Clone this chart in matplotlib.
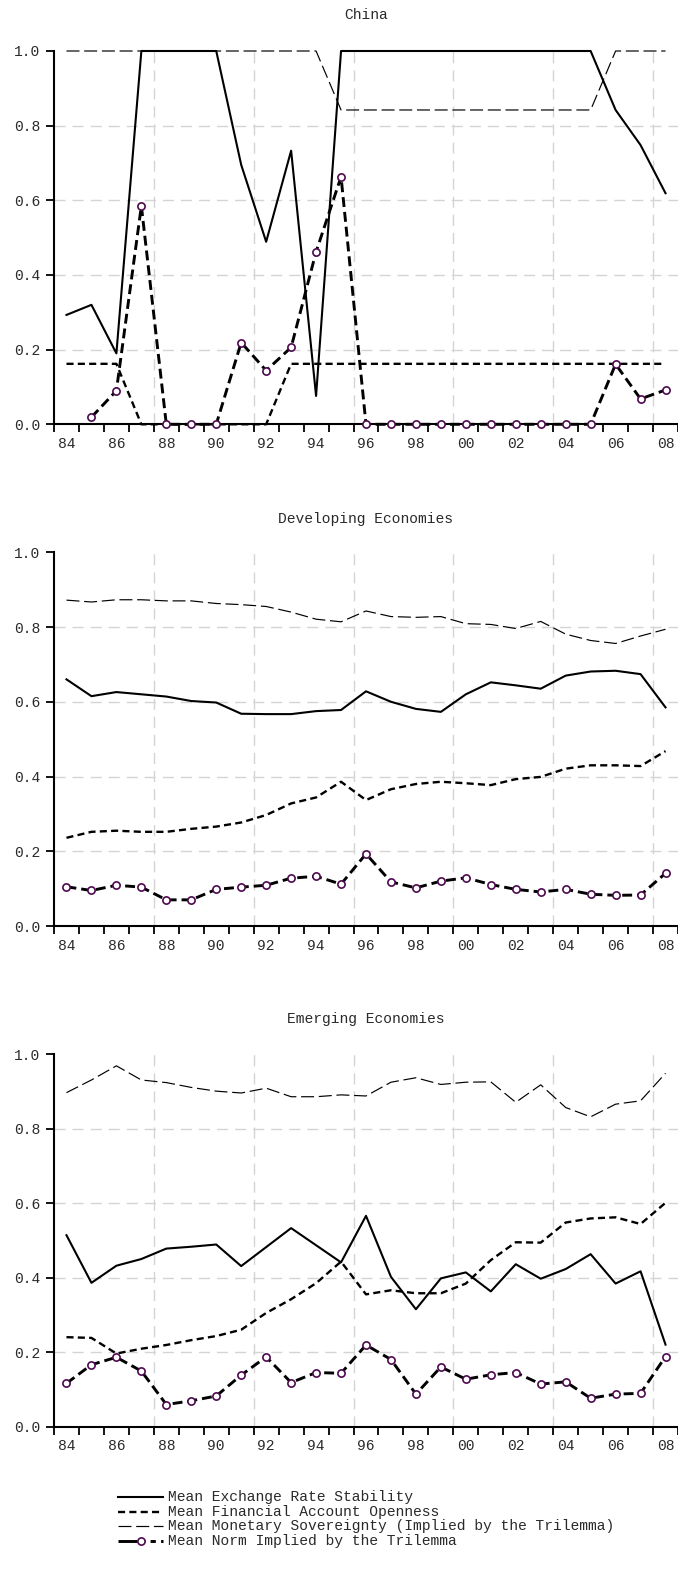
import numpy as np
import matplotlib.pyplot as plt
from matplotlib.lines import Line2D

plt.rcParams['font.family'] = ['Liberation Mono', 'DejaVu Sans Mono']

# ---------------------------------------------- data -----------------------------------------------
years = list(range(1984, 2009))
year_labels = ['%02d' % (y % 100) for y in years]

panel_titles = ['China', 'Developing Economies', 'Emerging Economies']

# China
cn_exch = [0.293, 0.320, 0.19, 1.0, 1.0, 1.0, 1.0, 0.695, 0.489, 0.733, 0.076, 1.0, 1.0,
           1.0, 1.0, 1.0, 1.0, 1.0, 1.0, 1.0, 1.0, 1.0, 0.842, 0.748, 0.619]
cn_fin = [0.162, 0.162, 0.162, 0.0, 0.0, 0.0, 0.0, 0.0, 0.0, 0.162, 0.162, 0.162, 0.162,
          0.162, 0.162, 0.162, 0.162, 0.162, 0.162, 0.162, 0.162, 0.162, 0.162, 0.162, 0.162]
cn_mon = [1.0, 1.0, 1.0, 1.0, 1.0, 1.0, 1.0, 1.0, 1.0, 1.0, 1.0, 0.842, 0.842,
          0.842, 0.842, 0.842, 0.842, 0.842, 0.842, 0.842, 0.842, 0.842, 1.0, 1.0, 1.0]
cn_norm = [np.nan, 0.019, 0.09, 0.585, 0.0, 0.0, 0.0, 0.219, 0.144, 0.206, 0.462, 0.663, 0.0,
           0.0, 0.0, 0.0, 0.0, 0.0, 0.0, 0.0, 0.0, 0.0, 0.161, 0.068, 0.092]

# Developing economies
dev_exch = [0.660, 0.615, 0.626, 0.620, 0.614, 0.602, 0.598, 0.568, 0.567, 0.567, 0.575, 0.578, 0.628,
            0.600, 0.581, 0.573, 0.620, 0.652, 0.644, 0.635, 0.670, 0.681, 0.683, 0.674, 0.585]
dev_fin = [0.236, 0.252, 0.255, 0.252, 0.252, 0.260, 0.266, 0.277, 0.297, 0.328, 0.344, 0.386, 0.337,
           0.366, 0.380, 0.386, 0.382, 0.377, 0.393, 0.399, 0.421, 0.430, 0.430, 0.428, 0.468]
dev_mon = [0.872, 0.867, 0.873, 0.873, 0.870, 0.870, 0.863, 0.860, 0.855, 0.840, 0.821, 0.814, 0.843,
           0.828, 0.826, 0.828, 0.809, 0.807, 0.796, 0.815, 0.781, 0.764, 0.756, 0.776, 0.794]
dev_norm = [0.105, 0.095, 0.109, 0.104, 0.070, 0.070, 0.098, 0.104, 0.109, 0.128, 0.133, 0.112, 0.193,
            0.118, 0.102, 0.120, 0.129, 0.111, 0.098, 0.091, 0.098, 0.085, 0.082, 0.083, 0.141]

# Emerging economies
em_exch = [0.514, 0.386, 0.432, 0.450, 0.478, 0.483, 0.489, 0.431, 0.482, 0.533, 0.487, 0.441, 0.566,
           0.402, 0.315, 0.398, 0.414, 0.363, 0.436, 0.397, 0.423, 0.463, 0.384, 0.417, 0.220]
em_fin = [0.240, 0.238, 0.196, 0.209, 0.219, 0.232, 0.243, 0.260, 0.305, 0.342, 0.385, 0.443, 0.355,
          0.366, 0.358, 0.358, 0.384, 0.447, 0.495, 0.494, 0.548, 0.559, 0.562, 0.544, 0.601]
em_mon = [0.897, 0.931, 0.969, 0.931, 0.924, 0.911, 0.901, 0.896, 0.909, 0.886, 0.886, 0.891, 0.888,
          0.925, 0.937, 0.919, 0.925, 0.926, 0.871, 0.918, 0.857, 0.832, 0.866, 0.875, 0.949]
em_norm = [0.116, 0.166, 0.186, 0.149, 0.059, 0.069, 0.082, 0.138, 0.187, 0.118, 0.145, 0.143, 0.219,
           0.180, 0.087, 0.160, 0.127, 0.139, 0.145, 0.114, 0.120, 0.076, 0.087, 0.089, 0.188]

series_names = ['Mean Exchange Rate Stability',
                'Mean Financial Account Openness',
                'Mean Monetary Sovereignty (Implied by the Trilemma)',
                'Mean Norm Implied by the Trilemma']

panels = [(cn_exch, cn_fin, cn_mon, cn_norm),
          (dev_exch, dev_fin, dev_mon, dev_norm),
          (em_exch, em_fin, em_mon, em_norm)]

# ---------------------------------------------- styles ---------------------------------------------
W, H = 678, 1573
txt = '#2a2a2a'
grid_c = '#d4d4d4'
mk_c = '#4e0a4e'
fs = 10.5

styles = [dict(color='k', lw=1.5, ls='-'),
          dict(color='k', lw=1.7, ls=(0, (3.0, 1.8))),
          dict(color='k', lw=0.85, ls=(0, (11, 4))),
          dict(color='k', lw=2.1, ls=(0, (3.4, 1.7)), marker='o', ms=5.2,
               mfc='white', mec=mk_c, mew=1.2)]

# axes boxes in pixels: (top of 1.0, bottom of 0.0)
boxes = [(51, 424.3), (552.3, 926), (1054.3, 1426.5)]
title_y = [15, 519, 1019]

fig = plt.figure(figsize=(W / 100, H / 100), dpi=100)
x = np.arange(len(years))

for k, (vals, (top, bot)) in enumerate(zip(panels, boxes)):
    ax = fig.add_axes([54 / W, 1 - bot / H, 624 / W, (bot - top) / H])
    ax.set_xlim(-0.5, len(years) - 0.5)
    ax.set_ylim(0, 1)

    # grid
    for gy in [0.2, 0.4, 0.6, 0.8]:
        ax.axhline(gy, color=grid_c, lw=1.0, ls=(0, (8, 5)), zorder=0)
    for gx in np.arange(3.5, len(years), 4):
        ax.axvline(gx, color=grid_c, lw=1.0, ls=(0, (8, 5)), zorder=0)

    for i, v in enumerate(vals):
        ax.plot(x, v, clip_on=False, zorder=3 + i, **styles[i])

    for s in ['top', 'right']:
        ax.spines[s].set_visible(False)
    for s in ['left', 'bottom']:
        ax.spines[s].set_linewidth(1.5)

    ax.set_yticks([0, 0.2, 0.4, 0.6, 0.8, 1.0])
    ax.set_yticklabels(['0.0', '0.2', '0.4', '0.6', '0.8', '1.0'])
    ax.tick_params(axis='y', length=6, width=1.3, pad=4, labelsize=fs, labelcolor=txt)

    ax.set_xticks(np.arange(-0.5, len(years), 1))
    ax.set_xticklabels([])
    ax.tick_params(axis='x', which='major', length=6, width=1.3)
    ax.set_xticks(x[::2], minor=True)
    ax.set_xticklabels(year_labels[::2], minor=True)
    ax.tick_params(axis='x', which='minor', length=0, pad=9, labelsize=fs, labelcolor=txt)

    fig.text(366 / W, 1 - title_y[k] / H, panel_titles[k], ha='center', va='center',
             fontsize=fs, color=txt)

# legend below the last panel
leg_rows = [1497, 1512, 1526, 1541]
for i, name in enumerate(series_names):
    yy = 1 - leg_rows[i] / H
    st = dict(styles[i])
    if i == 3:
        st['ls'] = (0, (6.5, 0.3, 2.4, 1.8, 1.8, 1.8))
        line = Line2D([118 / W, 141 / W, 163 / W], [yy, yy, yy], transform=fig.transFigure,
                      markevery=[1], **st)
    else:
        line = Line2D([118 / W, 163 / W], [yy, yy], transform=fig.transFigure, **st)
    fig.add_artist(line)
    fig.text(168 / W, yy, name, ha='left', va='center', fontsize=fs, color=txt)

plt.savefig('out.png', dpi=100)
